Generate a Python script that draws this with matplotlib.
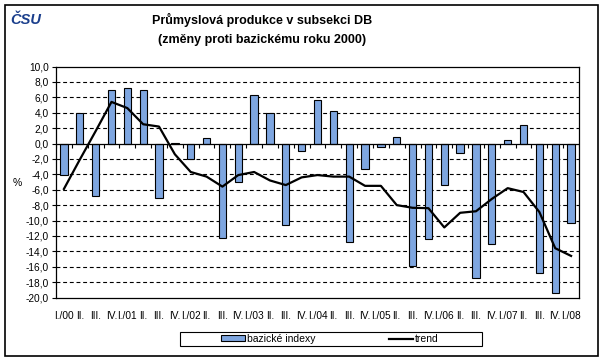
import numpy as np
import matplotlib
matplotlib.use("Agg")
import matplotlib.pyplot as plt
from matplotlib.ticker import FuncFormatter
from matplotlib.patches import Rectangle

# Data
years = ["00", "01", "02", "03", "04", "05", "06", "07", "08"]
quarters = ["I.", "II.", "III.", "IV."]
labels = []
for y in years:
    for q in quarters:
        labels.append(q + "/" + y if q == "I." else q)
labels = labels[:33]

bazicke = [-4.1, 4.0, -6.8, 7.0, 7.2, 6.9, -7.1, 0.1,
           -2.0, 0.65, -12.3, -5.0, 6.3, 4.0, -10.6, -1.0,
           5.7, 4.2, -12.8, -3.3, -0.5, 0.9, -15.9, -12.4,
           -5.4, -1.2, -17.5, -13.0, 0.5, 2.35, -16.8, -19.4,
           -10.3]
trend = [-5.9, -2.1, 1.6, 5.4, 4.6, 2.5, 2.2, -1.4,
         -3.7, -4.3, -5.6, -4.1, -3.7, -4.8, -5.4, -4.4,
         -4.1, -4.3, -4.3, -5.5, -5.5, -8.0, -8.35, -8.4,
         -10.9, -9.0, -8.8, -7.2, -5.8, -6.3, -8.9, -13.6,
         -14.6]

plt.rcParams["font.family"] = ["Liberation Sans", "DejaVu Sans"]

W, H = 604, 361
fig = plt.figure(figsize=(W / 100, H / 100), dpi=100)

# outer frame + legend frame
fig.patches.append(Rectangle((5 / W, 5 / H), 593 / W, 351 / H,
                             transform=fig.transFigure, fill=False,
                             edgecolor="black", linewidth=1.2))
fig.patches.append(Rectangle((180 / W, 1 - 346 / H), 302 / W, 14 / H,
                             transform=fig.transFigure, fill=False,
                             edgecolor="black", linewidth=0.8))

ax = fig.add_axes([56 / W, (H - 297.5) / H, 523 / W, 231 / H])
x = np.arange(len(bazicke))

bars = ax.bar(x, bazicke, width=0.46, color="#7ea6e0", edgecolor="black",
              linewidth=0.8, label="bazické indexy", zorder=3)
line, = ax.plot(x, trend, color="black", linewidth=1.6, label="trend", zorder=4)

ax.set_xlim(-0.5, len(bazicke) - 0.5)
ax.set_ylim(-20, 10)
ax.set_yticks(np.arange(-20, 11, 2))
ax.yaxis.set_major_formatter(FuncFormatter(lambda v, p: f"{v:.1f}".replace(".", ",")))
for v in np.arange(-18, 10, 2):
    if v != 0:
        ax.axhline(v, color="black", linewidth=0.8, linestyle=(0, (3.5, 2.5)), zorder=1)
ax.axhline(0, color="black", linewidth=0.9, zorder=5)
ax.vlines(np.arange(-0.5, len(bazicke)), -0.55, 0, color="black", linewidth=0.8, zorder=5)

ax.set_xticks(x)
ax.set_xticklabels(labels, fontsize=7.3)
ax.tick_params(axis="x", length=0, pad=10)
ax.tick_params(axis="y", length=3, width=0.8, labelsize=7.3, pad=2)
for s in ax.spines.values():
    s.set_linewidth(0.9)

fig.text(17 / W, 1 - 183 / H, "%", fontsize=7.5, ha="center", va="center")

fig.text(262 / W, 1 - 20 / H, "Průmyslová produkce v subsekci DB", fontsize=9,
         ha="center", va="center", fontweight="bold")
fig.text(262 / W, 1 - 40 / H, "(změny proti bazickému roku 2000)", fontsize=9,
         ha="center", va="center", fontweight="bold")
fig.text(10 / W, 1 - 20 / H, "ČSU", fontsize=10.5, ha="left", va="center",
         fontweight="bold", fontstyle="italic", color="#1a3e8c")

leg = fig.legend(handles=[bars, line], labels=["bazické indexy", "trend"],
                 loc="center", bbox_to_anchor=(330 / W, 1 - 339 / H), ncol=2,
                 fontsize=7.5, frameon=False,
                 columnspacing=7.0, handlelength=2.3, handleheight=0.45,
                 handletextpad=0.2, borderpad=0.1, borderaxespad=0)

fig.savefig("out.png", dpi=100)
